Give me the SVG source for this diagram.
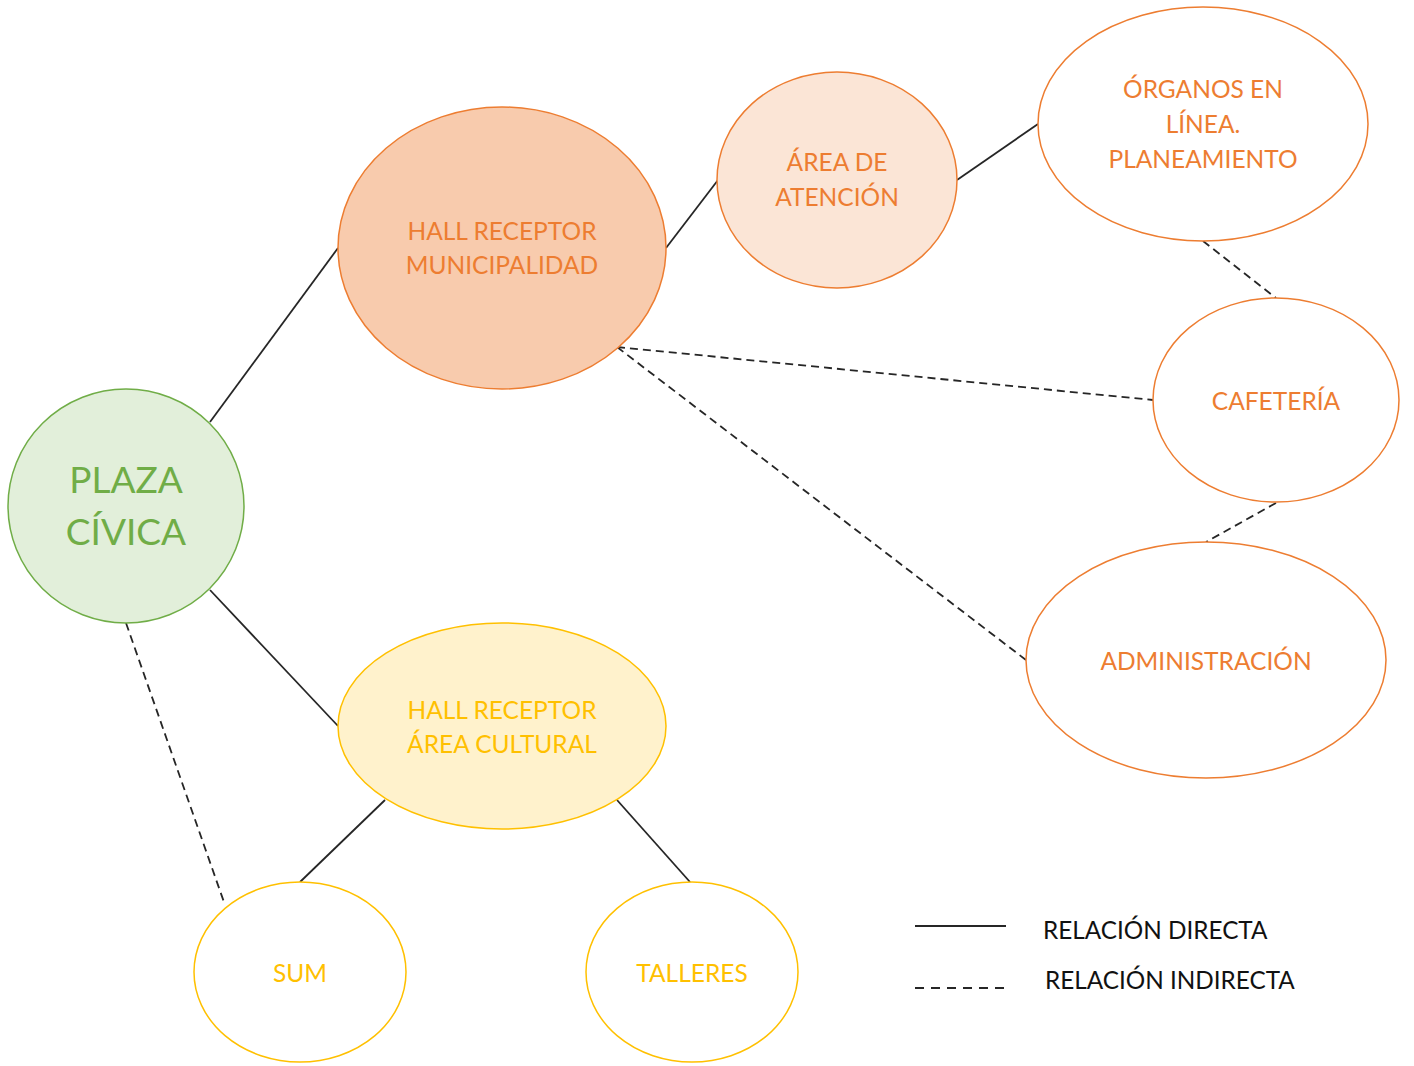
<svg xmlns="http://www.w3.org/2000/svg" width="1414" height="1066" viewBox="0 0 1414 1066">
<style>
text{font-family:Lato,"Liberation Sans",sans-serif;font-size:24.5px;text-anchor:middle}
.or{fill:#ed7d31}.ye{fill:#ffc000}.gr{fill:#70ad47}
.eo{stroke:#ed7d31;stroke-width:1.5}
.ey{stroke:#ffc000;stroke-width:1.5}
.solid{stroke:#262626;stroke-width:1.8;fill:none}
.dash{stroke:#262626;stroke-width:1.8;fill:none;stroke-dasharray:8 5}
.leg{fill:#111;text-anchor:start;font-size:24.3px}
</style>
<rect width="1414" height="1066" fill="#fff"/>
<g id="connectors">
<line class="solid" x1="210" y1="422" x2="338" y2="248"/>
<line class="solid" x1="210" y1="590" x2="338" y2="726"/>
<line class="solid" x1="666" y1="248" x2="718" y2="180"/>
<line class="solid" x1="957" y1="180" x2="1038" y2="124"/>
<line class="solid" x1="385" y1="800" x2="300" y2="882"/>
<line class="solid" x1="617" y1="800" x2="690" y2="882"/>
<line class="dash" x1="617" y1="347" x2="1153" y2="400"/>
<line class="dash" x1="617" y1="347" x2="1026" y2="660"/>
<line class="dash" x1="1203" y1="241" x2="1276" y2="298"/>
<line class="dash" x1="1276" y1="503" x2="1206" y2="542"/>
<line class="dash" x1="126" y1="623" x2="225" y2="905"/>
</g>
<g id="plaza">
<ellipse cx="126" cy="506" rx="118" ry="117" fill="#e2efda" stroke="#70ad47" stroke-width="1.5"/>
<text class="gr" x="126" y="493" style="font-size:37px">PLAZA</text>
<text class="gr" x="126" y="545" style="font-size:37px">CÍVICA</text>
</g>
<g id="hall-municipal">
<ellipse class="eo" cx="502" cy="248" rx="164" ry="141" fill="#f8cbad"/>
<text class="or" x="502" y="240">HALL RECEPTOR</text>
<text class="or" x="502" y="274">MUNICIPALIDAD</text>
</g>
<g id="area-atencion">
<ellipse class="eo" cx="837" cy="180" rx="120" ry="108" fill="#fbe5d6"/>
<text class="or" x="837" y="171">ÁREA DE</text>
<text class="or" x="837" y="206">ATENCIÓN</text>
</g>
<g id="organos">
<ellipse class="eo" cx="1203" cy="124" rx="165" ry="117" fill="#fff"/>
<text class="or" x="1203" y="98">ÓRGANOS EN</text>
<text class="or" x="1203" y="133">LÍNEA.</text>
<text class="or" x="1203" y="168">PLANEAMIENTO</text>
</g>
<g id="cafeteria">
<ellipse class="eo" cx="1276" cy="400" rx="123" ry="102" fill="#fff"/>
<text class="or" x="1276" y="410">CAFETERÍA</text>
</g>
<g id="administracion">
<ellipse class="eo" cx="1206" cy="660" rx="180" ry="118" fill="#fff"/>
<text class="or" x="1206" y="670">ADMINISTRACIÓN</text>
</g>
<g id="hall-cultural">
<ellipse class="ey" cx="502" cy="726" rx="164" ry="103" fill="#fff2cc"/>
<text class="ye" x="502" y="719">HALL RECEPTOR</text>
<text class="ye" x="502" y="753">ÁREA CULTURAL</text>
</g>
<g id="sum">
<ellipse class="ey" cx="300" cy="972" rx="106" ry="90" fill="#fff"/>
<text class="ye" x="300" y="982">SUM</text>
</g>
<g id="talleres">
<ellipse class="ey" cx="692" cy="972" rx="106" ry="90" fill="#fff"/>
<text class="ye" x="692" y="982">TALLERES</text>
</g>
<g id="legend">
<line class="solid" x1="915" y1="926" x2="1006" y2="926"/>
<line class="dash" x1="915" y1="988" x2="1006" y2="988" style="stroke-dasharray:9 7"/>
<text class="leg" x="1043" y="939">RELACIÓN DIRECTA</text>
<text class="leg" x="1045" y="989">RELACIÓN INDIRECTA</text>
</g>
</svg>
